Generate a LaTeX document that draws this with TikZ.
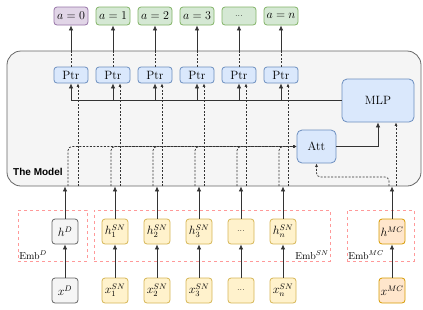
\documentclass[tikz,border=0pt]{standalone}
\usepackage{fontspec}
\usetikzlibrary{arrows.meta,positioning,calc}
\newfontfamily\modelfont{Liberation Sans}
\definecolor{purpF}{HTML}{E1D5E7}
\definecolor{purpD}{HTML}{9673A6}
\definecolor{greenF}{HTML}{D5E8D4}
\definecolor{greenD}{HTML}{82B366}
\definecolor{blueF}{HTML}{DAE8FC}
\definecolor{blueD}{HTML}{6C8EBF}
\definecolor{grayF}{HTML}{F5F5F5}
\definecolor{grayD}{HTML}{666666}
\definecolor{yellowF}{HTML}{FFF2CC}
\definecolor{yellowD}{HTML}{D6B656}
\definecolor{orangeF}{HTML}{FFE6CC}
\definecolor{orangeD}{HTML}{D79B00}
\definecolor{embD}{HTML}{FF9999}
\definecolor{lineC}{HTML}{333333}
\tikzset{
  cell/.style={
    draw,
    rounded corners=3pt,
    line width=0.8pt,
    minimum width=34pt,
    minimum height=18pt,
    inner sep=0pt,
    align=center,
    font=\fontsize{12}{14}\selectfont
  },
  outbox/.style={cell, fill=greenF, draw=greenD},
  ptrbox/.style={cell, fill=blueF, draw=blueD, minimum height=16pt},
  netbox/.style={cell, fill=blueF, draw=blueD, rounded corners=5pt},
  varbox/.style={cell, minimum width=26pt, minimum height=25pt},
  dnode/.style={varbox, fill=grayF, draw=grayD},
  snnode/.style={varbox, fill=yellowF, draw=yellowD},
  mcnode/.style={varbox, fill=orangeF, draw=orangeD},
  modelbox/.style={
    draw=grayD,
    fill=grayF,
    line width=0.8pt,
    rounded corners=14pt,
    minimum width=414pt,
    minimum height=135pt
  },
  embbox/.style={draw=embD, dashed, line width=0.8pt, minimum height=51pt},
  emblabel/.style={inner sep=1.5pt, font=\fontsize{10}{12}\selectfont},
  flow/.style={-{Latex[length=5pt,width=4.5pt]}, line width=0.8pt, lineC},
  dflow/.style={-{Latex[length=3.5pt,width=3pt]}, line width=0.7pt, lineC,
    dash pattern=on 2pt off 1.5pt},
  dline/.style={line width=0.7pt, lineC, dash pattern=on 2pt off 1.5pt},
  bus/.style={line width=0.8pt, lineC}
}
\begin{document}
\begin{tikzpicture}[x=1pt,y=-1pt]
\useasboundingbox (0,0) rectangle (423,309);

% Model frame
\node[modelbox] (model) at (214,118.5) {};
\node[anchor=west, inner sep=0pt, font=\modelfont\bfseries\fontsize{10}{12}\selectfont]
  (modelT) at (13,172) {The Model};

% Output actions
\node[outbox, fill=purpF, draw=purpD] (out0) at (71,16) {$a=0$};
\node[outbox] (out1) at (113,16) {$a=1$};
\node[outbox] (out2) at (155,16) {$a=2$};
\node[outbox] (out3) at (197,16) {$a=3$};
\node[outbox] (out4) at (239,16) {\small...};
\node[outbox] (out5) at (281,16) {$a=n$};

% Pointer heads
\node[ptrbox] (ptr0) at (71,75) {Ptr};
\node[ptrbox] (ptr1) at (113,75) {Ptr};
\node[ptrbox] (ptr2) at (155,75) {Ptr};
\node[ptrbox] (ptr3) at (197,75) {Ptr};
\node[ptrbox] (ptr4) at (239,75) {Ptr};
\node[ptrbox] (ptr5) at (281,75) {Ptr};

% MLP and attention
\node[netbox, minimum width=72pt, minimum height=43pt] (mlp) at (378,100.5) {MLP};
\node[netbox, minimum width=39pt, minimum height=33pt] (att) at (316.5,146.5) {Att};

% Embedding groups
\node[embbox, minimum width=69pt] (embDg) at (52.5,235.5) {};
\node[embbox, minimum width=236pt] (embSNg) at (212,235.5) {};
\node[embbox, minimum width=67pt] (embMCg) at (380.5,235.5) {};
\node[emblabel, anchor=south west] (embDl) at (embDg.south west) {Emb$^{D}$};
\node[emblabel, anchor=south east] (embSNl) at (embSNg.south east) {Emb$^{SN}$};
\node[emblabel, anchor=south west] (embMCl) at (embMCg.south west) {Emb$^{MC}$};

% Hidden states
\node[dnode] (hD) at (65,231.5) {$h^{D}$};
\node[snnode] (h1) at (115,231.5) {$h^{SN}_{1}$};
\node[snnode] (h2) at (157,231.5) {$h^{SN}_{2}$};
\node[snnode] (h3) at (199,231.5) {$h^{SN}_{3}$};
\node[snnode] (h4) at (241,231.5) {\small...};
\node[snnode] (hn) at (283,231.5) {$h^{SN}_{n}$};
\node[mcnode] (hMC) at (392,231.5) {$h^{MC}$};

% Raw inputs
\node[dnode] (xD) at (65,290.5) {$x^{D}$};
\node[snnode] (x1) at (115,290.5) {$x^{SN}_{1}$};
\node[snnode] (x2) at (157,290.5) {$x^{SN}_{2}$};
\node[snnode] (x3) at (199,290.5) {$x^{SN}_{3}$};
\node[snnode] (x4) at (241,290.5) {\small...};
\node[snnode] (xn) at (283,290.5) {$x^{SN}_{n}$};
\node[mcnode] (xMC) at (392,290.5) {$x^{MC}$};

% Embedding arrows
\draw[flow] (xD) -- (hD);
\draw[flow] (x1) -- (h1);
\draw[flow] (x2) -- (h2);
\draw[flow] (x3) -- (h3);
\draw[flow] (x4) -- (h4);
\draw[flow] (xn) -- (hn);
\draw[flow] (xMC) -- (hMC);

% Into the model
\draw[flow] (hD) -- (hD |- model.south);
\draw[flow] (h1) -- (h1 |- model.south);
\draw[flow] (h2) -- (h2 |- model.south);
\draw[flow] (h3) -- (h3 |- model.south);
\draw[flow] (h4) -- (h4 |- model.south);
\draw[flow] (hn) -- (hn |- model.south);
\draw[flow] (hMC) -- (hMC |- model.south);

% Inputs straight up to each pointer
\coordinate (pin0) at ([xshift=7pt]ptr0.south);
\coordinate (pin1) at ([xshift=7pt]ptr1.south);
\coordinate (pin2) at ([xshift=7pt]ptr2.south);
\coordinate (pin3) at ([xshift=7pt]ptr3.south);
\coordinate (pin4) at ([xshift=7pt]ptr4.south);
\coordinate (pin5) at ([xshift=7pt]ptr5.south);
\draw[dflow] (pin0 |- model.south) -- (pin0);
\draw[dflow] (pin1 |- model.south) -- (pin1);
\draw[dflow] (pin2 |- model.south) -- (pin2);
\draw[dflow] (pin3 |- model.south) -- (pin3);
\draw[dflow] (pin4 |- model.south) -- (pin4);
\draw[dflow] (pin5 |- model.south) -- (pin5);

% Inputs gathered into the attention
\coordinate (aD) at (68,186);
\coordinate (a1) at (111,186);
\coordinate (a2) at (153,186);
\coordinate (a3) at (195,186);
\coordinate (a4) at (237,186);
\coordinate (a5) at (279,186);
\draw[dflow, rounded corners=4pt] (aD) |- (att.west);
\draw[dflow, rounded corners=4pt] (a1) |- (att.west);
\draw[dflow, rounded corners=4pt] (a2) |- (att.west);
\draw[dflow, rounded corners=4pt] (a3) |- (att.west);
\draw[dflow, rounded corners=4pt] (a4) |- (att.west);
\draw[dflow, rounded corners=4pt] (a5) |- (att.west);

% Vehicle state to MLP and attention
\coordinate (mcA) at (389,186);
\coordinate (mcB) at (396,186);
\draw[dflow] (mcB) -- (mcB |- mlp.south);
\draw[dflow, rounded corners=4pt] (mcA) -- ++(0,-9) -| (att.south);

% Attention -> MLP
\draw[flow] (att.east) -| (mlp.south);

% MLP -> pointers
\draw[bus] (mlp.west) -- (ptr0.south |- mlp.west);
\draw[flow] (ptr0.south |- mlp.west) -- (ptr0.south);
\draw[flow] (ptr1.south |- mlp.west) -- (ptr1.south);
\draw[flow] (ptr2.south |- mlp.west) -- (ptr2.south);
\draw[flow] (ptr3.south |- mlp.west) -- (ptr3.south);
\draw[flow] (ptr4.south |- mlp.west) -- (ptr4.south);
\draw[flow] (ptr5.south |- mlp.west) -- (ptr5.south);

% Pointers -> actions
\draw[dline] (ptr0.north) -- (ptr0.north |- model.north);
\draw[dline] (ptr1.north) -- (ptr1.north |- model.north);
\draw[dline] (ptr2.north) -- (ptr2.north |- model.north);
\draw[dline] (ptr3.north) -- (ptr3.north |- model.north);
\draw[dline] (ptr4.north) -- (ptr4.north |- model.north);
\draw[dline] (ptr5.north) -- (ptr5.north |- model.north);
\draw[flow] (ptr0.north |- model.north) -- (out0.south);
\draw[flow] (ptr1.north |- model.north) -- (out1.south);
\draw[flow] (ptr2.north |- model.north) -- (out2.south);
\draw[flow] (ptr3.north |- model.north) -- (out3.south);
\draw[flow] (ptr4.north |- model.north) -- (out4.south);
\draw[flow] (ptr5.north |- model.north) -- (out5.south);

\end{tikzpicture}
\end{document}
